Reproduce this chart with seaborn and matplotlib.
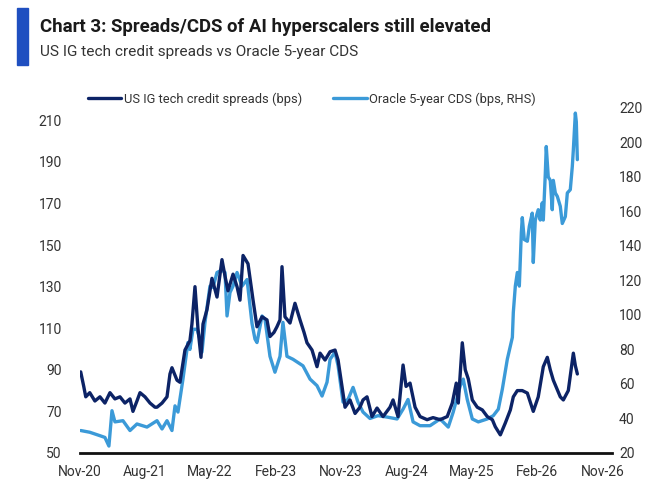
import numpy as np
import pandas as pd
import matplotlib
matplotlib.use("Agg")
import matplotlib.pyplot as plt
import matplotlib.dates as mdates
from matplotlib.patches import Rectangle
from matplotlib.lines import Line2D
import seaborn as sns

# US IG tech credit spreads (bps, left axis) - time in decimal years
ig_t = [2020.844, 2020.879, 2020.902, 2020.948, 2021.005, 2021.063, 2021.120, 2021.178,
        2021.235, 2021.293, 2021.350, 2021.408, 2021.442, 2021.488, 2021.523, 2021.580,
        2021.638, 2021.695, 2021.718, 2021.776, 2021.833, 2021.867, 2021.890, 2021.948,
        2021.982, 2022.040, 2022.097, 2022.120, 2022.155, 2022.189, 2022.224, 2022.247,
        2022.293, 2022.350, 2022.408, 2022.465, 2022.500, 2022.534, 2022.592, 2022.638,
        2022.672, 2022.707, 2022.764, 2022.822, 2022.867, 2022.925, 2022.982, 2023.017,
        2023.063, 2023.097, 2023.132, 2023.155, 2023.189, 2023.247, 2023.304, 2023.362,
        2023.408, 2023.442, 2023.500, 2023.557, 2023.592, 2023.649, 2023.707, 2023.764,
        2023.799, 2023.844, 2023.879, 2023.936, 2023.994, 2024.051, 2024.086, 2024.132,
        2024.189, 2024.247, 2024.316, 2024.396, 2024.431, 2024.488, 2024.546, 2024.580,
        2024.626, 2024.684, 2024.741, 2024.822, 2024.890, 2024.971, 2025.051, 2025.109,
        2025.155, 2025.178, 2025.224, 2025.258, 2025.293, 2025.339, 2025.396, 2025.454,
        2025.511, 2025.569, 2025.603, 2025.661, 2025.718, 2025.776, 2025.810, 2025.856,
        2025.913, 2025.971, 2026.040, 2026.097, 2026.155, 2026.201, 2026.235, 2026.270,
        2026.350, 2026.385, 2026.442, 2026.500, 2026.523, 2026.546]
ig_bps = [89, 82, 77, 79, 75, 77, 74, 79,
          76, 77, 74, 76, 70, 75, 79, 77,
          74, 72, 72, 74, 77, 88, 91, 85,
          84, 99.5, 104, 112, 130, 110, 96, 112,
          119, 134, 125, 143, 135, 128, 136, 130,
          123.5, 145, 141, 123.5, 110.7, 115.5, 114, 106,
          108, 110.7, 114, 139.6, 115.5, 112.5, 122, 114,
          108, 103, 99.5, 91.5, 98, 94.7, 98.7, 99.5,
          94.7, 82, 72, 75.5, 69, 72, 75.5, 77,
          67.5, 71.6, 67.5, 72, 75.5, 67.5, 92.3, 82,
          83.6, 72, 67.5, 66, 67, 66, 67.5, 74,
          83.6, 74, 103, 90, 85.6, 75.5, 72, 70.7,
          67.5, 66, 62.6, 58.7, 64.4, 70.7, 77, 80,
          80, 78.8, 70, 77, 91.5, 96, 90, 85,
          77, 75.5, 80, 98, 92, 88]

# Oracle 5-year CDS (bps, right axis)
orcl_t = [2020.844, 2020.948, 2021.063, 2021.120, 2021.166, 2021.201, 2021.235, 2021.327,
          2021.408, 2021.488, 2021.603, 2021.718, 2021.776, 2021.833, 2021.890, 2021.925,
          2021.959, 2022.017, 2022.074, 2022.097, 2022.132, 2022.178, 2022.212, 2022.235,
          2022.270, 2022.327, 2022.362, 2022.408, 2022.465, 2022.500, 2022.523, 2022.557,
          2022.592, 2022.638, 2022.695, 2022.753, 2022.810, 2022.844, 2022.867, 2022.925,
          2022.959, 2023.017, 2023.074, 2023.132, 2023.166, 2023.212, 2023.281, 2023.396,
          2023.477, 2023.557, 2023.615, 2023.672, 2023.707, 2023.764, 2023.799, 2023.856,
          2023.913, 2023.971, 2024.028, 2024.086, 2024.166, 2024.258, 2024.362, 2024.477,
          2024.546, 2024.603, 2024.661, 2024.741, 2024.856, 2024.971, 2025.063, 2025.120,
          2025.201, 2025.235, 2025.281, 2025.339, 2025.408, 2025.511, 2025.580, 2025.638,
          2025.684, 2025.741, 2025.799, 2025.810, 2025.833, 2025.856, 2025.879, 2025.902,
          2025.913, 2025.936, 2025.971, 2025.994, 2026.028, 2026.040, 2026.063, 2026.097,
          2026.120, 2026.143, 2026.155, 2026.178, 2026.189, 2026.212, 2026.235, 2026.258,
          2026.270, 2026.293, 2026.316, 2026.350, 2026.373, 2026.408, 2026.431, 2026.465,
          2026.488, 2026.500, 2026.523, 2026.534, 2026.546]
orcl_bps = [33, 32, 30, 29, 24, 44.5, 38, 38.7,
            33, 36.8, 35, 38.7, 33.9, 38.7, 33, 47.3,
            43.7, 62.8, 84, 80, 91.7, 91.7, 86, 78.4,
            95.7, 116.7, 116, 124.6, 126, 124.6, 99.4, 113,
            116.7, 124.6, 116.7, 120.5, 95, 86, 84, 99.4,
            97.5, 76, 66.8, 76, 95.7, 76, 74.3, 70.5,
            62.8, 59, 53, 61, 74.3, 78.4, 70.5, 49.5,
            51, 58, 49.5, 43.7, 40, 41.6, 40.8, 39.7,
            45.4, 51, 38, 35.8, 35.8, 39.7, 35, 43.7,
            58.9, 62.8, 51, 39.7, 38, 39.7, 41.6, 45.4,
            57, 74.3, 87, 101.5, 116.7, 124.6, 116.7, 147.7,
            156.4, 143.7, 142.7, 151.4, 159, 130.4, 155, 161,
            155, 165, 155, 182, 197.6, 180, 178, 161,
            178, 170.7, 168.7, 163, 153, 157, 170.7, 172.6,
            186, 195.7, 217, 212, 190]

left_ticks = [50, 70, 90, 110, 130, 150, 170, 190, 210]
right_ticks = [20, 40, 60, 80, 100, 120, 140, 160, 180, 200, 220]

title = "Chart 3: Spreads/CDS of AI hyperscalers still elevated"
subtitle = "US IG tech credit spreads vs Oracle 5-year CDS"
labels = ["US IG tech credit spreads (bps)", "Oracle 5-year CDS (bps, RHS)"]

dark = "#0c2366"
light = "#3b9ad8"


def to_dates(t):
    t = np.asarray(t)
    yr = np.floor(t).astype(int)
    base = pd.to_datetime([f"{y}-01-01" for y in yr])
    return base + pd.to_timedelta((t - yr) * 365.25, unit="D")


def fit_width(txt, width_px, renderer):
    # shrink/grow font so the text spans about width_px
    w = txt.get_window_extent(renderer).width
    txt.set_fontsize(txt.get_fontsize() * width_px / w)


ig = pd.DataFrame({"date": to_dates(ig_t), "bps": ig_bps})
orcl = pd.DataFrame({"date": to_dates(orcl_t), "bps": orcl_bps})

sns.set_style("white")
plt.rcParams["font.family"] = ["Roboto", "DejaVu Sans"]

fig = plt.figure(figsize=(6.66, 4.86), dpi=100)
ax = fig.add_axes([0.12, 0.068, 0.799, 0.71])
ax2 = ax.twinx()

sns.lineplot(data=ig, x="date", y="bps", ax=ax, color=dark, linewidth=2.4, zorder=3)
sns.lineplot(data=orcl, x="date", y="bps", ax=ax2, color=light, linewidth=2.4, zorder=2)
ax.set_zorder(ax2.get_zorder() + 1)
ax.patch.set_visible(False)

ax.set_xlim(pd.Timestamp("2020-11-01"), pd.Timestamp("2026-12-12"))
ax.set_ylim(50, 216)
ax2.set_ylim(20, 220)
ax.set_yticks(left_ticks)
ax2.set_yticks(right_ticks)
ax.set_xticks(pd.date_range("2020-11-01", periods=9, freq="9MS"))
ax.xaxis.set_major_formatter(mdates.DateFormatter("%b-%y"))

for a in (ax, ax2):
    a.set_xlabel("")
    a.set_ylabel("")
    for s in ("top", "left", "right", "bottom"):
        a.spines[s].set_visible(False)
    a.tick_params(length=0, labelsize=10, colors="#333333")
ax.spines["bottom"].set_visible(True)
ax.spines["bottom"].set_color("#111111")
ax.spines["bottom"].set_linewidth(2)
ax.tick_params(axis="x", pad=9)
ax.tick_params(axis="y", pad=13)
ax2.tick_params(axis="y", pad=5)

handles = [Line2D([], [], color=dark, linewidth=2.4),
           Line2D([], [], color=light, linewidth=2.4)]
leg = fig.legend(handles, labels, loc="center left", bbox_to_anchor=(0.114, 0.796),
                 ncol=2, frameon=False, fontsize=9.3, handlelength=2.6,
                 handletextpad=0.2, columnspacing=2.4, labelcolor="#333333")

fig.patches.append(Rectangle((0.0255, 1 - 65 / 486), 0.0165, 57 / 486,
                             transform=fig.transFigure, color="#1f4fc0"))
t1 = fig.text(0.06, 1 - 27 / 486, title, fontsize=14, fontweight="bold",
              va="center", color="#1a1a1a")
t2 = fig.text(0.06, 1 - 52 / 486, subtitle, fontsize=13, va="center", color="#333333")

r = fig.canvas.get_renderer()
fit_width(t1, 452, r)
fit_width(t2, 318, r)

fig.savefig("out.png", dpi=100)
